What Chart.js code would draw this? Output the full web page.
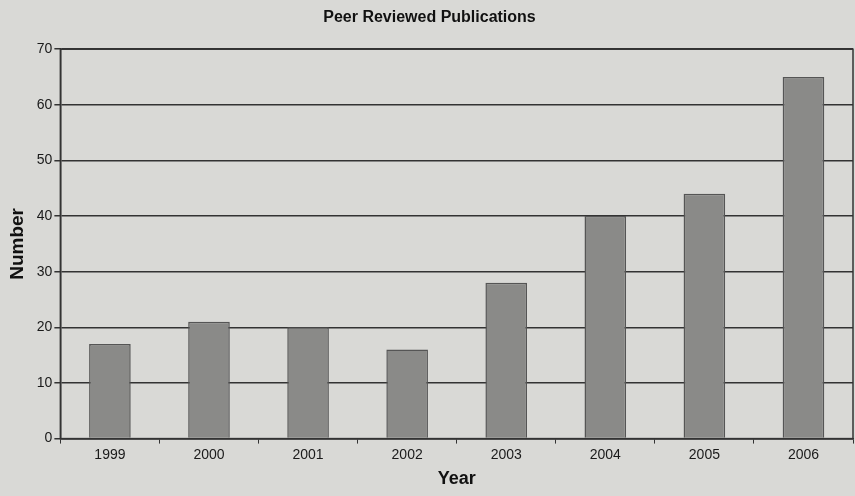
<!DOCTYPE html>
<html lang="en">
<head>
<meta charset="UTF-8">
<title>Peer Reviewed Publications</title>
<script src="https://cdn.jsdelivr.net/npm/chart.js"></script>
<style>
    body {
        margin: 0;
        background-color: #d9d9d6;
    }
    #chartContainer {
        width: 855px;
        height: 496px;
    }
</style>
</head>
<body>
<div id="chartContainer">
    <canvas id="chartCanvas"></canvas>
</div>
<script>
    // data
    const years = ['1999', '2000', '2001', '2002', '2003', '2004', '2005', '2006'];
    const publications = [17, 21, 20, 16, 28, 40, 44, 65];

    // outline round the plot area, as in the original
    const frame = {
        id: 'frame',
        afterDraw(chart) {
            const a = chart.chartArea;
            const ctx = chart.ctx;
            ctx.save();
            ctx.strokeStyle = '#333';
            ctx.lineWidth = 1.5;
            ctx.strokeRect(a.left, a.top, a.right - a.left, a.bottom - a.top);
            ctx.restore();
        }
    };

    new Chart(document.getElementById('chartCanvas').getContext('2d'), {
        type: 'bar',
        data: {
            labels: years,
            datasets: [{
                label: 'Publications',
                data: publications,
                backgroundColor: '#8a8a88',
                borderColor: '#555',
                borderWidth: 1.5,
                categoryPercentage: 1,
                barPercentage: 0.42
            }]
        },
        options: {
            responsive: true,
            maintainAspectRatio: false,
            animation: false,
            layout: { padding: { right: 2, left: 6, bottom: 4 } },
            plugins: {
                legend: { display: false },
                tooltip: { enabled: false },
                title: {
                    display: true,
                    text: 'Peer Reviewed Publications',
                    color: '#111',
                    font: { family: 'Liberation Sans, Arial', size: 16, weight: 'bold' },
                    padding: { top: 8, bottom: 22 }
                }
            },
            scales: {
                x: {
                    offset: true,
                    grid: { offset: true, drawOnChartArea: false, drawTicks: true, tickLength: 5, color: '#333' },
                    border: { color: '#333', width: 1.5 },
                    ticks: { color: '#1a1a1a', font: { family: 'Liberation Sans, Arial', size: 14 }, padding: 3 },
                    title: {
                        display: true,
                        text: 'Year',
                        color: '#111',
                        font: { family: 'Liberation Sans, Arial', size: 18, weight: 'bold' },
                        padding: { top: 2, bottom: 2 }
                    }
                },
                y: {
                    min: 0,
                    max: 70,
                    ticks: { stepSize: 10, color: '#1a1a1a', font: { family: 'Liberation Sans, Arial', size: 14 }, padding: 2 },
                    grid: { color: '#333', lineWidth: 1.5, tickLength: 6 },
                    border: { color: '#333', width: 1.5 },
                    title: {
                        display: true,
                        text: 'Number',
                        color: '#111',
                        font: { family: 'Liberation Sans, Arial', size: 19, weight: 'bold' },
                        padding: { top: 0, bottom: 6 }
                    }
                }
            }
        },
        plugins: [frame]
    });
</script>
</body>
</html>
